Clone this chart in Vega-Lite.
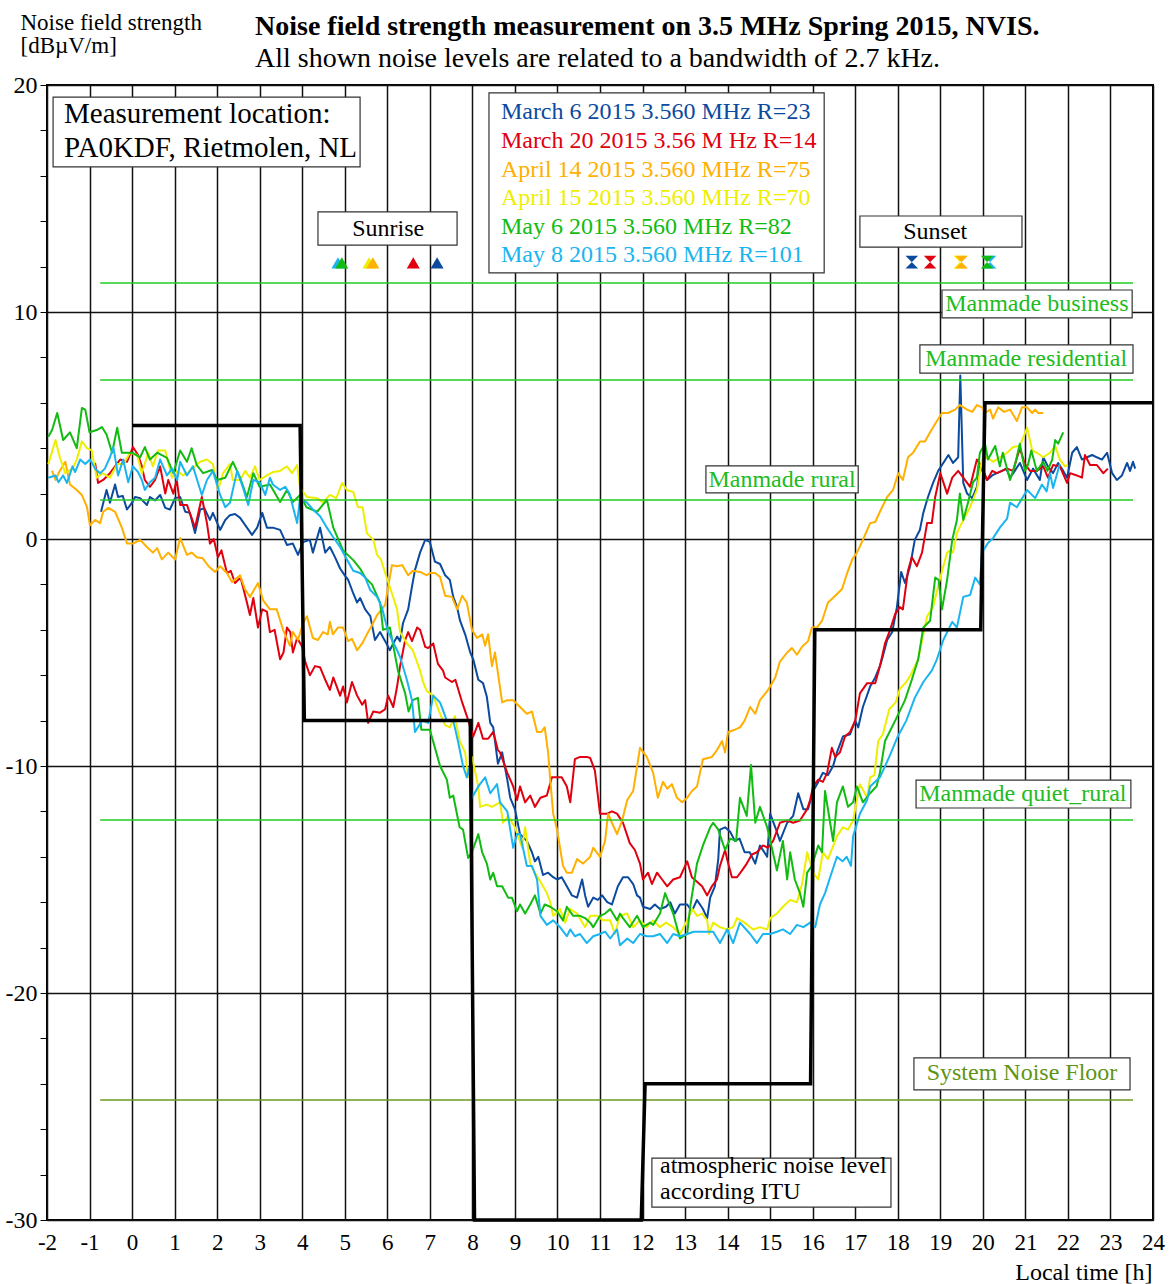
{
"$schema":"https://vega.github.io/schema/vega-lite/v6.json",
"width":1106,"height":1135,
"autosize":{"type":"none"},
"padding":{"left":47,"top":85,"right":20,"bottom":64},
"background":"white",
"title":{"text":"Noise field strength measurement on 3.5 MHz Spring 2015, NVIS.","subtitle":"All shown noise levels are related to a bandwidth of 2.7 kHz.","anchor":"start","frame":"group","dx":208,"dy":74,"offset":12,"font":"Liberation Serif","fontSize":28,"fontWeight":"bold","color":"black","subtitleFont":"Liberation Serif","subtitleFontSize":28,"subtitleColor":"black","subtitlePadding":4},
"config":{"font":"Liberation Serif","view":{"stroke":"black","strokeWidth":2},"axis":{"labelFont":"Liberation Serif","titleFont":"Liberation Serif","labelColor":"black","titleColor":"black","titleFontWeight":"normal"}},
"datasets":{
"series":[
{"s":"M6","t":-0.73,"v":1.2},{"s":"M6","t":-0.6,"v":2.16},{"s":"M6","t":-0.52,"v":1.6},{"s":"M6","t":-0.4,"v":2.4},{"s":"M6","t":-0.33,"v":1.85},{"s":"M6","t":-0.22,"v":1.9},{"s":"M6","t":-0.12,"v":1.3},{"s":"M6","t":0,"v":1.6},{"s":"M6","t":0.07,"v":1.85},{"s":"M6","t":0.19,"v":1.8},{"s":"M6","t":0.35,"v":1.5},{"s":"M6","t":0.42,"v":1.85},{"s":"M6","t":0.54,"v":1.7},{"s":"M6","t":0.66,"v":1.94},{"s":"M6","t":0.78,"v":1.37},{"s":"M6","t":0.89,"v":1.3},{"s":"M6","t":1.01,"v":1.8},{"s":"M6","t":1.13,"v":1.85},{"s":"M6","t":1.25,"v":1.2},{"s":"M6","t":1.36,"v":1.15},{"s":"M6","t":1.48,"v":0.26},{"s":"M6","t":1.6,"v":1.3},{"s":"M6","t":1.7,"v":1.35},{"s":"M6","t":1.83,"v":0.84},{"s":"M6","t":1.9,"v":1.15},{"s":"M6","t":2.07,"v":0.4},{"s":"M6","t":2.19,"v":0.84},{"s":"M6","t":2.3,"v":1.05},{"s":"M6","t":2.42,"v":1.1},{"s":"M6","t":2.54,"v":0.93},{"s":"M6","t":2.7,"v":0.5},{"s":"M6","t":2.82,"v":0.18},{"s":"M6","t":2.94,"v":0.5},{"s":"M6","t":3.06,"v":1.15},{"s":"M6","t":3.17,"v":0.5},{"s":"M6","t":3.31,"v":0.5},{"s":"M6","t":3.48,"v":0.4},{"s":"M6","t":3.64,"v":-0.26},{"s":"M6","t":3.78,"v":-0.2},{"s":"M6","t":3.9,"v":-0.7},{"s":"M6","t":4.02,"v":-0.13},{"s":"M6","t":4.18,"v":-0.04},{"s":"M6","t":4.25,"v":-0.6},{"s":"M6","t":4.42,"v":0.5},{"s":"M6","t":4.54,"v":-0.6},{"s":"M6","t":4.65,"v":-0.35},{"s":"M6","t":4.77,"v":-0.8},{"s":"M6","t":4.89,"v":-1.3},{"s":"M6","t":5.0,"v":-1.6},{"s":"M6","t":5.08,"v":-1.8},{"s":"M6","t":5.2,"v":-2.4},{"s":"M6","t":5.29,"v":-2.8},{"s":"M6","t":5.36,"v":-2.6},{"s":"M6","t":5.48,"v":-3.1},{"s":"M6","t":5.6,"v":-3.4},{"s":"M6","t":5.71,"v":-4.45},{"s":"M6","t":5.83,"v":-4.1},{"s":"M6","t":5.95,"v":-4.5},{"s":"M6","t":6.06,"v":-4.9},{"s":"M6","t":6.14,"v":-4.6},{"s":"M6","t":6.23,"v":-4.3},{"s":"M6","t":6.3,"v":-4.5},{"s":"M6","t":6.37,"v":-3.7},{"s":"M6","t":6.49,"v":-3.1},{"s":"M6","t":6.58,"v":-2.1},{"s":"M6","t":6.65,"v":-1.37},{"s":"M6","t":6.77,"v":-0.6},{"s":"M6","t":6.89,"v":-0.04},{"s":"M6","t":7.0,"v":-0.13},{"s":"M6","t":7.12,"v":-1.0},{"s":"M6","t":7.24,"v":-1.1},{"s":"M6","t":7.36,"v":-1.6},{"s":"M6","t":7.47,"v":-1.8},{"s":"M6","t":7.55,"v":-2.55},{"s":"M6","t":7.64,"v":-3.0},{"s":"M6","t":7.71,"v":-3.6},{"s":"M6","t":7.83,"v":-4.2},{"s":"M6","t":7.95,"v":-5.0},{"s":"M6","t":8.02,"v":-5.3},{"s":"M6","t":8.14,"v":-6.2},{"s":"M6","t":8.25,"v":-6.35},{"s":"M6","t":8.34,"v":-6.95},{"s":"M6","t":8.42,"v":-8.1},{"s":"M6","t":8.49,"v":-8.3},{"s":"M6","t":8.6,"v":-9.9},{"s":"M6","t":8.7,"v":-9.4},{"s":"M6","t":8.82,"v":-10.6},{"s":"M6","t":8.89,"v":-11.4},{"s":"M6","t":9.0,"v":-11.9},{"s":"M6","t":9.12,"v":-13.0},{"s":"M6","t":9.28,"v":-13.3},{"s":"M6","t":9.4,"v":-13.8},{"s":"M6","t":9.47,"v":-14.2},{"s":"M6","t":9.55,"v":-14.0},{"s":"M6","t":9.66,"v":-14.8},{"s":"M6","t":9.78,"v":-14.7},{"s":"M6","t":9.9,"v":-14.9},{"s":"M6","t":9.99,"v":-15.0},{"s":"M6","t":10.1,"v":-14.9},{"s":"M6","t":10.22,"v":-15.3},{"s":"M6","t":10.34,"v":-15.7},{"s":"M6","t":10.46,"v":-15.8},{"s":"M6","t":10.58,"v":-15.0},{"s":"M6","t":10.65,"v":-15.7},{"s":"M6","t":10.72,"v":-16.2},{"s":"M6","t":10.84,"v":-15.8},{"s":"M6","t":10.95,"v":-15.9},{"s":"M6","t":11.05,"v":-15.7},{"s":"M6","t":11.17,"v":-16.0},{"s":"M6","t":11.28,"v":-16.1},{"s":"M6","t":11.42,"v":-15.3},{"s":"M6","t":11.54,"v":-14.9},{"s":"M6","t":11.66,"v":-14.9},{"s":"M6","t":11.78,"v":-15.2},{"s":"M6","t":11.87,"v":-15.7},{"s":"M6","t":11.94,"v":-15.8},{"s":"M6","t":12.01,"v":-16.2},{"s":"M6","t":12.18,"v":-16.3},{"s":"M6","t":12.29,"v":-16.1},{"s":"M6","t":12.41,"v":-16.3},{"s":"M6","t":12.55,"v":-16.2},{"s":"M6","t":12.65,"v":-16.0},{"s":"M6","t":12.76,"v":-16.5},{"s":"M6","t":12.88,"v":-16.1},{"s":"M6","t":13.05,"v":-16.1},{"s":"M6","t":13.16,"v":-16.4},{"s":"M6","t":13.28,"v":-15.9},{"s":"M6","t":13.42,"v":-16.3},{"s":"M6","t":13.52,"v":-16.7},{"s":"M6","t":13.59,"v":-15.8},{"s":"M6","t":13.7,"v":-15.3},{"s":"M6","t":13.78,"v":-14.1},{"s":"M6","t":13.82,"v":-12.8},{"s":"M6","t":13.94,"v":-12.7},{"s":"M6","t":14.06,"v":-12.9},{"s":"M6","t":14.17,"v":-13.3},{"s":"M6","t":14.28,"v":-13.2},{"s":"M6","t":14.4,"v":-13.8},{"s":"M6","t":14.52,"v":-13.8},{"s":"M6","t":14.65,"v":-14.3},{"s":"M6","t":14.76,"v":-13.5},{"s":"M6","t":14.93,"v":-14.0},{"s":"M6","t":15.0,"v":-12.1},{"s":"M6","t":15.12,"v":-12.7},{"s":"M6","t":15.23,"v":-13.3},{"s":"M6","t":15.4,"v":-12.5},{"s":"M6","t":15.54,"v":-12.2},{"s":"M6","t":15.66,"v":-11.2},{"s":"M6","t":15.78,"v":-11.9},{"s":"M6","t":15.89,"v":-11.9},{"s":"M6","t":16.01,"v":-11.1},{"s":"M6","t":16.13,"v":-10.7},{"s":"M6","t":16.24,"v":-10.3},{"s":"M6","t":16.36,"v":-10.4},{"s":"M6","t":16.48,"v":-10.0},{"s":"M6","t":16.57,"v":-9.4},{"s":"M6","t":16.71,"v":-8.7},{"s":"M6","t":16.88,"v":-8.6},{"s":"M6","t":17.0,"v":-8.0},{"s":"M6","t":17.07,"v":-8.3},{"s":"M6","t":17.18,"v":-7.4},{"s":"M6","t":17.35,"v":-6.5},{"s":"M6","t":17.47,"v":-6.1},{"s":"M6","t":17.58,"v":-5.6},{"s":"M6","t":17.63,"v":-5.3},{"s":"M6","t":17.75,"v":-4.45},{"s":"M6","t":17.87,"v":-4.1},{"s":"M6","t":17.98,"v":-3.0},{"s":"M6","t":18.08,"v":-1.45},{"s":"M6","t":18.17,"v":-1.94},{"s":"M6","t":18.29,"v":-1.2},{"s":"M6","t":18.4,"v":-0.04},{"s":"M6","t":18.52,"v":0.4},{"s":"M6","t":18.6,"v":1.15},{"s":"M6","t":18.71,"v":1.85},{"s":"M6","t":18.83,"v":2.47},{"s":"M6","t":18.95,"v":3.0},{"s":"M6","t":19.07,"v":3.35},{"s":"M6","t":19.19,"v":3.7},{"s":"M6","t":19.3,"v":3.35},{"s":"M6","t":19.42,"v":3.6},{"s":"M6","t":19.47,"v":7.2},{"s":"M6","t":19.54,"v":2.47},{"s":"M6","t":19.63,"v":2.0},{"s":"M6","t":19.75,"v":1.8},{"s":"M6","t":19.86,"v":2.3},{"s":"M6","t":19.93,"v":3.2},{"s":"M6","t":19.99,"v":3.0},{"s":"M6","t":20.1,"v":2.6},{"s":"M6","t":20.22,"v":2.8},{"s":"M6","t":20.33,"v":2.9},{"s":"M6","t":20.45,"v":3.0},{"s":"M6","t":20.55,"v":3.1},{"s":"M6","t":20.64,"v":2.7},{"s":"M6","t":20.75,"v":3.0},{"s":"M6","t":20.87,"v":3.35},{"s":"M6","t":21.04,"v":2.6},{"s":"M6","t":21.18,"v":3.1},{"s":"M6","t":21.34,"v":2.6},{"s":"M6","t":21.42,"v":3.6},{"s":"M6","t":21.53,"v":3.2},{"s":"M6","t":21.65,"v":2.9},{"s":"M6","t":21.77,"v":3.35},{"s":"M6","t":21.89,"v":3.0},{"s":"M6","t":21.98,"v":2.7},{"s":"M6","t":22.1,"v":3.8},{"s":"M6","t":22.21,"v":4.05},{"s":"M6","t":22.33,"v":3.5},{"s":"M6","t":22.45,"v":3.6},{"s":"M6","t":22.57,"v":3.7},{"s":"M6","t":22.68,"v":3.6},{"s":"M6","t":22.8,"v":3.5},{"s":"M6","t":22.92,"v":3.8},{"s":"M6","t":23.04,"v":2.9},{"s":"M6","t":23.15,"v":2.6},{"s":"M6","t":23.27,"v":2.8},{"s":"M6","t":23.39,"v":3.35},{"s":"M6","t":23.46,"v":3.0},{"s":"M6","t":23.53,"v":3.4},{"s":"M6","t":23.58,"v":3.1},
{"s":"M20","t":-0.87,"v":3.35},{"s":"M20","t":-0.8,"v":2.47},{"s":"M20","t":-0.68,"v":2.6},{"s":"M20","t":-0.52,"v":2.9},{"s":"M20","t":-0.4,"v":3.2},{"s":"M20","t":-0.28,"v":3.5},{"s":"M20","t":-0.12,"v":3.4},{"s":"M20","t":0.02,"v":4.05},{"s":"M20","t":0.14,"v":3.7},{"s":"M20","t":0.23,"v":3.2},{"s":"M20","t":0.3,"v":2.6},{"s":"M20","t":0.42,"v":2.3},{"s":"M20","t":0.54,"v":2.6},{"s":"M20","t":0.66,"v":3.2},{"s":"M20","t":0.78,"v":2.0},{"s":"M20","t":0.85,"v":2.6},{"s":"M20","t":0.97,"v":2.0},{"s":"M20","t":1.05,"v":2.6},{"s":"M20","t":1.13,"v":1.5},{"s":"M20","t":1.29,"v":1.5},{"s":"M20","t":1.48,"v":0.5},{"s":"M20","t":1.64,"v":1.85},{"s":"M20","t":1.76,"v":0.7},{"s":"M20","t":1.83,"v":-0.2},{"s":"M20","t":1.92,"v":0.0},{"s":"M20","t":2.02,"v":-0.8},{"s":"M20","t":2.1,"v":-0.5},{"s":"M20","t":2.23,"v":-1.5},{"s":"M20","t":2.32,"v":-1.4},{"s":"M20","t":2.42,"v":-1.94},{"s":"M20","t":2.55,"v":-1.7},{"s":"M20","t":2.7,"v":-2.8},{"s":"M20","t":2.77,"v":-3.35},{"s":"M20","t":2.85,"v":-2.6},{"s":"M20","t":2.96,"v":-3.9},{"s":"M20","t":3.06,"v":-3.1},{"s":"M20","t":3.17,"v":-3.2},{"s":"M20","t":3.24,"v":-4.1},{"s":"M20","t":3.35,"v":-4.0},{"s":"M20","t":3.48,"v":-5.3},{"s":"M20","t":3.56,"v":-5.0},{"s":"M20","t":3.64,"v":-3.9},{"s":"M20","t":3.72,"v":-4.1},{"s":"M20","t":3.78,"v":-5.0},{"s":"M20","t":3.88,"v":-4.36},{"s":"M20","t":4.0,"v":-4.75},{"s":"M20","t":4.07,"v":-5.4},{"s":"M20","t":4.18,"v":-6.0},{"s":"M20","t":4.3,"v":-5.6},{"s":"M20","t":4.42,"v":-5.65},{"s":"M20","t":4.54,"v":-6.2},{"s":"M20","t":4.65,"v":-6.65},{"s":"M20","t":4.73,"v":-6.1},{"s":"M20","t":4.89,"v":-6.9},{"s":"M20","t":4.96,"v":-6.5},{"s":"M20","t":5.05,"v":-7.2},{"s":"M20","t":5.17,"v":-6.3},{"s":"M20","t":5.29,"v":-6.9},{"s":"M20","t":5.41,"v":-7.3},{"s":"M20","t":5.48,"v":-7.1},{"s":"M20","t":5.55,"v":-8.1},{"s":"M20","t":5.67,"v":-7.6},{"s":"M20","t":5.83,"v":-7.65},{"s":"M20","t":5.95,"v":-7.5},{"s":"M20","t":6.02,"v":-6.9},{"s":"M20","t":6.14,"v":-7.4},{"s":"M20","t":6.23,"v":-6.5},{"s":"M20","t":6.3,"v":-5.6},{"s":"M20","t":6.42,"v":-4.45},{"s":"M20","t":6.49,"v":-4.1},{"s":"M20","t":6.58,"v":-4.5},{"s":"M20","t":6.7,"v":-3.9},{"s":"M20","t":6.77,"v":-4.0},{"s":"M20","t":6.89,"v":-4.75},{"s":"M20","t":6.96,"v":-4.8},{"s":"M20","t":7.08,"v":-4.6},{"s":"M20","t":7.19,"v":-5.5},{"s":"M20","t":7.31,"v":-5.8},{"s":"M20","t":7.36,"v":-6.1},{"s":"M20","t":7.52,"v":-6.3},{"s":"M20","t":7.6,"v":-6.2},{"s":"M20","t":7.76,"v":-7.2},{"s":"M20","t":7.87,"v":-7.8},{"s":"M20","t":8.02,"v":-8.7},{"s":"M20","t":8.14,"v":-8.1},{"s":"M20","t":8.25,"v":-8.8},{"s":"M20","t":8.37,"v":-8.8},{"s":"M20","t":8.49,"v":-8.5},{"s":"M20","t":8.6,"v":-9.3},{"s":"M20","t":8.65,"v":-9.4},{"s":"M20","t":8.82,"v":-10.3},{"s":"M20","t":8.96,"v":-10.9},{"s":"M20","t":9.05,"v":-11.5},{"s":"M20","t":9.12,"v":-10.9},{"s":"M20","t":9.24,"v":-11.6},{"s":"M20","t":9.36,"v":-11.3},{"s":"M20","t":9.47,"v":-11.8},{"s":"M20","t":9.6,"v":-11.4},{"s":"M20","t":9.75,"v":-11.3},{"s":"M20","t":9.87,"v":-10.5},{"s":"M20","t":9.99,"v":-10.5},{"s":"M20","t":10.1,"v":-10.5},{"s":"M20","t":10.22,"v":-10.9},{"s":"M20","t":10.3,"v":-11.6},{"s":"M20","t":10.41,"v":-9.7},{"s":"M20","t":10.53,"v":-9.6},{"s":"M20","t":10.69,"v":-9.6},{"s":"M20","t":10.77,"v":-9.65},{"s":"M20","t":10.88,"v":-10.2},{"s":"M20","t":11.0,"v":-12.1},{"s":"M20","t":11.17,"v":-12.1},{"s":"M20","t":11.28,"v":-12.0},{"s":"M20","t":11.4,"v":-12.1},{"s":"M20","t":11.54,"v":-12.5},{"s":"M20","t":11.7,"v":-13.4},{"s":"M20","t":11.82,"v":-13.7},{"s":"M20","t":11.94,"v":-14.3},{"s":"M20","t":12.01,"v":-15.0},{"s":"M20","t":12.13,"v":-14.7},{"s":"M20","t":12.22,"v":-15.2},{"s":"M20","t":12.34,"v":-14.7},{"s":"M20","t":12.46,"v":-15.0},{"s":"M20","t":12.58,"v":-15.3},{"s":"M20","t":12.72,"v":-15.0},{"s":"M20","t":12.88,"v":-14.9},{"s":"M20","t":13.05,"v":-14.2},{"s":"M20","t":13.16,"v":-14.9},{"s":"M20","t":13.28,"v":-15.1},{"s":"M20","t":13.4,"v":-15.3},{"s":"M20","t":13.52,"v":-15.7},{"s":"M20","t":13.63,"v":-15.3},{"s":"M20","t":13.75,"v":-15.0},{"s":"M20","t":13.82,"v":-14.4},{"s":"M20","t":13.94,"v":-13.7},{"s":"M20","t":14.0,"v":-14.2},{"s":"M20","t":14.1,"v":-14.9},{"s":"M20","t":14.22,"v":-14.9},{"s":"M20","t":14.34,"v":-14.6},{"s":"M20","t":14.45,"v":-14.3},{"s":"M20","t":14.57,"v":-13.9},{"s":"M20","t":14.69,"v":-13.8},{"s":"M20","t":14.83,"v":-13.5},{"s":"M20","t":14.95,"v":-13.6},{"s":"M20","t":15.07,"v":-13.3},{"s":"M20","t":15.23,"v":-12.5},{"s":"M20","t":15.4,"v":-12.4},{"s":"M20","t":15.54,"v":-12.5},{"s":"M20","t":15.7,"v":-12.4},{"s":"M20","t":15.87,"v":-11.9},{"s":"M20","t":15.94,"v":-11.5},{"s":"M20","t":16.01,"v":-10.9},{"s":"M20","t":16.13,"v":-10.6},{"s":"M20","t":16.24,"v":-10.7},{"s":"M20","t":16.34,"v":-10.3},{"s":"M20","t":16.45,"v":-9.2},{"s":"M20","t":16.53,"v":-9.6},{"s":"M20","t":16.64,"v":-9.4},{"s":"M20","t":16.76,"v":-8.7},{"s":"M20","t":16.88,"v":-8.5},{"s":"M20","t":17.0,"v":-8.0},{"s":"M20","t":17.11,"v":-6.8},{"s":"M20","t":17.28,"v":-6.35},{"s":"M20","t":17.47,"v":-6.35},{"s":"M20","t":17.58,"v":-5.6},{"s":"M20","t":17.7,"v":-4.6},{"s":"M20","t":17.82,"v":-4.0},{"s":"M20","t":17.94,"v":-3.3},{"s":"M20","t":18.05,"v":-3.0},{"s":"M20","t":18.12,"v":-3.1},{"s":"M20","t":18.24,"v":-1.4},{"s":"M20","t":18.33,"v":-0.8},{"s":"M20","t":18.45,"v":-1.2},{"s":"M20","t":18.57,"v":-0.6},{"s":"M20","t":18.69,"v":0.7},{"s":"M20","t":18.8,"v":0.7},{"s":"M20","t":18.88,"v":1.85},{"s":"M20","t":19.0,"v":2.9},{"s":"M20","t":19.16,"v":2.0},{"s":"M20","t":19.28,"v":2.7},{"s":"M20","t":19.42,"v":3.0},{"s":"M20","t":19.54,"v":2.7},{"s":"M20","t":19.7,"v":2.3},{"s":"M20","t":19.86,"v":3.5},{"s":"M20","t":19.98,"v":3.2},{"s":"M20","t":20.1,"v":2.6},{"s":"M20","t":20.22,"v":3.0},{"s":"M20","t":20.33,"v":2.9},{"s":"M20","t":20.45,"v":3.0},{"s":"M20","t":20.57,"v":3.1},{"s":"M20","t":20.71,"v":3.0},{"s":"M20","t":20.87,"v":4.0},{"s":"M20","t":20.99,"v":3.3},{"s":"M20","t":21.11,"v":3.0},{"s":"M20","t":21.27,"v":3.0},{"s":"M20","t":21.42,"v":3.2},{"s":"M20","t":21.53,"v":2.7},{"s":"M20","t":21.65,"v":3.26},{"s":"M20","t":21.81,"v":3.2},{"s":"M20","t":21.98,"v":2.47},{"s":"M20","t":22.05,"v":2.9},{"s":"M20","t":22.21,"v":2.8},{"s":"M20","t":22.33,"v":2.7},{"s":"M20","t":22.4,"v":3.7},{"s":"M20","t":22.52,"v":3.26},{"s":"M20","t":22.68,"v":3.26},{"s":"M20","t":22.83,"v":2.9},{"s":"M20","t":22.94,"v":3.1},
{"s":"A14","t":-1.88,"v":3.0},{"s":"A14","t":-1.8,"v":2.6},{"s":"A14","t":-1.7,"v":3.0},{"s":"A14","t":-1.57,"v":3.4},{"s":"A14","t":-1.46,"v":2.4},{"s":"A14","t":-1.3,"v":2.16},{"s":"A14","t":-1.18,"v":1.94},{"s":"A14","t":-1.06,"v":1.4},{"s":"A14","t":-0.99,"v":0.6},{"s":"A14","t":-0.87,"v":0.84},{"s":"A14","t":-0.75,"v":0.7},{"s":"A14","t":-0.68,"v":1.2},{"s":"A14","t":-0.56,"v":1.37},{"s":"A14","t":-0.4,"v":1.2},{"s":"A14","t":-0.24,"v":0.5},{"s":"A14","t":-0.12,"v":-0.2},{"s":"A14","t":0.02,"v":-0.2},{"s":"A14","t":0.19,"v":-0.04},{"s":"A14","t":0.35,"v":-0.35},{"s":"A14","t":0.49,"v":-0.6},{"s":"A14","t":0.59,"v":-0.4},{"s":"A14","t":0.7,"v":-0.9},{"s":"A14","t":0.85,"v":-0.6},{"s":"A14","t":1.01,"v":-0.9},{"s":"A14","t":1.13,"v":0.04},{"s":"A14","t":1.29,"v":-0.7},{"s":"A14","t":1.4,"v":-0.6},{"s":"A14","t":1.52,"v":-0.8},{"s":"A14","t":1.66,"v":-0.85},{"s":"A14","t":1.8,"v":-1.2},{"s":"A14","t":1.95,"v":-1.45},{"s":"A14","t":2.07,"v":-1.2},{"s":"A14","t":2.23,"v":-1.5},{"s":"A14","t":2.35,"v":-1.9},{"s":"A14","t":2.54,"v":-1.6},{"s":"A14","t":2.65,"v":-2.2},{"s":"A14","t":2.77,"v":-2.55},{"s":"A14","t":2.96,"v":-1.94},{"s":"A14","t":3.08,"v":-2.7},{"s":"A14","t":3.24,"v":-3.1},{"s":"A14","t":3.4,"v":-3.1},{"s":"A14","t":3.55,"v":-4.0},{"s":"A14","t":3.71,"v":-4.7},{"s":"A14","t":3.78,"v":-4.1},{"s":"A14","t":3.9,"v":-4.45},{"s":"A14","t":4.02,"v":-3.7},{"s":"A14","t":4.11,"v":-3.4},{"s":"A14","t":4.25,"v":-4.36},{"s":"A14","t":4.37,"v":-4.45},{"s":"A14","t":4.49,"v":-4.1},{"s":"A14","t":4.6,"v":-4.2},{"s":"A14","t":4.65,"v":-3.65},{"s":"A14","t":4.72,"v":-4.2},{"s":"A14","t":4.84,"v":-3.9},{"s":"A14","t":4.96,"v":-3.9},{"s":"A14","t":5.08,"v":-4.5},{"s":"A14","t":5.17,"v":-4.4},{"s":"A14","t":5.29,"v":-4.9},{"s":"A14","t":5.41,"v":-4.6},{"s":"A14","t":5.52,"v":-4.2},{"s":"A14","t":5.64,"v":-3.8},{"s":"A14","t":5.76,"v":-3.35},{"s":"A14","t":5.95,"v":-2.9},{"s":"A14","t":6.02,"v":-2.1},{"s":"A14","t":6.11,"v":-1.15},{"s":"A14","t":6.23,"v":-1.2},{"s":"A14","t":6.35,"v":-1.15},{"s":"A14","t":6.49,"v":-1.6},{"s":"A14","t":6.6,"v":-1.4},{"s":"A14","t":6.77,"v":-1.45},{"s":"A14","t":6.93,"v":-1.6},{"s":"A14","t":7.0,"v":-1.5},{"s":"A14","t":7.12,"v":-1.5},{"s":"A14","t":7.24,"v":-1.67},{"s":"A14","t":7.36,"v":-2.5},{"s":"A14","t":7.52,"v":-2.55},{"s":"A14","t":7.64,"v":-3.1},{"s":"A14","t":7.76,"v":-2.5},{"s":"A14","t":7.87,"v":-2.8},{"s":"A14","t":7.99,"v":-4.0},{"s":"A14","t":8.11,"v":-4.36},{"s":"A14","t":8.23,"v":-4.2},{"s":"A14","t":8.3,"v":-4.7},{"s":"A14","t":8.37,"v":-4.2},{"s":"A14","t":8.46,"v":-5.6},{"s":"A14","t":8.53,"v":-5.0},{"s":"A14","t":8.6,"v":-5.9},{"s":"A14","t":8.7,"v":-7.2},{"s":"A14","t":8.82,"v":-7.1},{"s":"A14","t":8.96,"v":-7.1},{"s":"A14","t":9.12,"v":-7.4},{"s":"A14","t":9.28,"v":-7.7},{"s":"A14","t":9.4,"v":-7.6},{"s":"A14","t":9.52,"v":-8.5},{"s":"A14","t":9.62,"v":-8.5},{"s":"A14","t":9.7,"v":-8.3},{"s":"A14","t":9.78,"v":-9.4},{"s":"A14","t":9.83,"v":-10.6},{"s":"A14","t":9.9,"v":-12.1},{"s":"A14","t":9.99,"v":-12.8},{"s":"A14","t":10.06,"v":-13.6},{"s":"A14","t":10.13,"v":-14.4},{"s":"A14","t":10.22,"v":-14.7},{"s":"A14","t":10.34,"v":-14.7},{"s":"A14","t":10.46,"v":-14.1},{"s":"A14","t":10.6,"v":-14.3},{"s":"A14","t":10.77,"v":-14.0},{"s":"A14","t":10.84,"v":-13.6},{"s":"A14","t":11.0,"v":-14.0},{"s":"A14","t":11.12,"v":-13.3},{"s":"A14","t":11.19,"v":-12.1},{"s":"A14","t":11.28,"v":-12.5},{"s":"A14","t":11.4,"v":-13.0},{"s":"A14","t":11.52,"v":-12.4},{"s":"A14","t":11.64,"v":-11.5},{"s":"A14","t":11.78,"v":-11.1},{"s":"A14","t":11.94,"v":-9.2},{"s":"A14","t":12.1,"v":-9.6},{"s":"A14","t":12.25,"v":-10.3},{"s":"A14","t":12.36,"v":-11.4},{"s":"A14","t":12.48,"v":-10.7},{"s":"A14","t":12.58,"v":-11.0},{"s":"A14","t":12.69,"v":-10.8},{"s":"A14","t":12.81,"v":-11.4},{"s":"A14","t":12.93,"v":-11.6},{"s":"A14","t":13.05,"v":-11.4},{"s":"A14","t":13.16,"v":-11.1},{"s":"A14","t":13.28,"v":-10.9},{"s":"A14","t":13.42,"v":-9.7},{"s":"A14","t":13.63,"v":-9.6},{"s":"A14","t":13.75,"v":-9.3},{"s":"A14","t":13.87,"v":-8.9},{"s":"A14","t":13.94,"v":-9.4},{"s":"A14","t":14.01,"v":-8.5},{"s":"A14","t":14.17,"v":-8.4},{"s":"A14","t":14.29,"v":-8.3},{"s":"A14","t":14.4,"v":-8.0},{"s":"A14","t":14.53,"v":-7.4},{"s":"A14","t":14.65,"v":-7.7},{"s":"A14","t":14.76,"v":-7.1},{"s":"A14","t":14.93,"v":-6.7},{"s":"A14","t":15.0,"v":-6.5},{"s":"A14","t":15.12,"v":-6.1},{"s":"A14","t":15.23,"v":-5.4},{"s":"A14","t":15.4,"v":-5.0},{"s":"A14","t":15.51,"v":-4.8},{"s":"A14","t":15.63,"v":-5.1},{"s":"A14","t":15.75,"v":-4.75},{"s":"A14","t":15.89,"v":-4.5},{"s":"A14","t":15.98,"v":-3.9},{"s":"A14","t":16.1,"v":-3.9},{"s":"A14","t":16.22,"v":-3.6},{"s":"A14","t":16.36,"v":-2.8},{"s":"A14","t":16.53,"v":-2.5},{"s":"A14","t":16.69,"v":-2.2},{"s":"A14","t":16.81,"v":-1.5},{"s":"A14","t":16.93,"v":-0.9},{"s":"A14","t":17.04,"v":-0.6},{"s":"A14","t":17.18,"v":-0.04},{"s":"A14","t":17.35,"v":0.7},{"s":"A14","t":17.47,"v":0.75},{"s":"A14","t":17.58,"v":1.2},{"s":"A14","t":17.75,"v":1.85},{"s":"A14","t":17.89,"v":2.16},{"s":"A14","t":18.01,"v":2.9},{"s":"A14","t":18.12,"v":2.6},{"s":"A14","t":18.24,"v":3.6},{"s":"A14","t":18.36,"v":3.8},{"s":"A14","t":18.52,"v":4.3},{"s":"A14","t":18.64,"v":4.3},{"s":"A14","t":18.76,"v":4.7},{"s":"A14","t":18.92,"v":5.2},{"s":"A14","t":19.04,"v":5.55},{"s":"A14","t":19.18,"v":5.55},{"s":"A14","t":19.35,"v":5.7},{"s":"A14","t":19.46,"v":5.9},{"s":"A14","t":19.63,"v":5.7},{"s":"A14","t":19.75,"v":5.6},{"s":"A14","t":19.86,"v":5.9},{"s":"A14","t":19.98,"v":5.8},{"s":"A14","t":20.05,"v":5.55},{"s":"A14","t":20.17,"v":5.7},{"s":"A14","t":20.24,"v":5.3},{"s":"A14","t":20.36,"v":5.8},{"s":"A14","t":20.5,"v":5.6},{"s":"A14","t":20.64,"v":5.7},{"s":"A14","t":20.8,"v":5.2},{"s":"A14","t":20.92,"v":5.8},{"s":"A14","t":21.04,"v":5.8},{"s":"A14","t":21.16,"v":5.55},{"s":"A14","t":21.23,"v":5.7},{"s":"A14","t":21.3,"v":5.55},{"s":"A14","t":21.42,"v":5.55},
{"s":"A15","t":-1.97,"v":3.3},{"s":"A15","t":-1.8,"v":4.36},{"s":"A15","t":-1.7,"v":3.6},{"s":"A15","t":-1.57,"v":2.9},{"s":"A15","t":-1.4,"v":3.1},{"s":"A15","t":-1.3,"v":3.5},{"s":"A15","t":-1.18,"v":4.3},{"s":"A15","t":-1.06,"v":4.0},{"s":"A15","t":-0.95,"v":3.9},{"s":"A15","t":-0.83,"v":2.7},{"s":"A15","t":-0.7,"v":2.9},{"s":"A15","t":-0.52,"v":2.7},{"s":"A15","t":-0.35,"v":3.3},{"s":"A15","t":-0.2,"v":3.3},{"s":"A15","t":-0.05,"v":3.8},{"s":"A15","t":0.12,"v":3.7},{"s":"A15","t":0.23,"v":2.9},{"s":"A15","t":0.38,"v":3.8},{"s":"A15","t":0.49,"v":3.2},{"s":"A15","t":0.61,"v":3.9},{"s":"A15","t":0.78,"v":3.9},{"s":"A15","t":0.94,"v":2.7},{"s":"A15","t":1.06,"v":3.0},{"s":"A15","t":1.2,"v":2.8},{"s":"A15","t":1.32,"v":2.95},{"s":"A15","t":1.48,"v":3.2},{"s":"A15","t":1.6,"v":3.4},{"s":"A15","t":1.76,"v":3.5},{"s":"A15","t":1.9,"v":3.3},{"s":"A15","t":2.02,"v":2.16},{"s":"A15","t":2.14,"v":2.9},{"s":"A15","t":2.3,"v":3.3},{"s":"A15","t":2.37,"v":2.6},{"s":"A15","t":2.54,"v":2.6},{"s":"A15","t":2.66,"v":3.0},{"s":"A15","t":2.77,"v":2.7},{"s":"A15","t":2.89,"v":3.2},{"s":"A15","t":3.0,"v":2.6},{"s":"A15","t":3.17,"v":2.8},{"s":"A15","t":3.31,"v":2.95},{"s":"A15","t":3.48,"v":3.0},{"s":"A15","t":3.64,"v":3.2},{"s":"A15","t":3.76,"v":2.9},{"s":"A15","t":3.88,"v":3.26},{"s":"A15","t":3.95,"v":2.25},{"s":"A15","t":4.11,"v":1.85},{"s":"A15","t":4.35,"v":1.8},{"s":"A15","t":4.49,"v":1.6},{"s":"A15","t":4.65,"v":1.94},{"s":"A15","t":4.8,"v":1.8},{"s":"A15","t":4.94,"v":2.47},{"s":"A15","t":5.05,"v":2.16},{"s":"A15","t":5.2,"v":2.07},{"s":"A15","t":5.31,"v":1.4},{"s":"A15","t":5.42,"v":1.4},{"s":"A15","t":5.52,"v":0.26},{"s":"A15","t":5.67,"v":-0.04},{"s":"A15","t":5.76,"v":-0.7},{"s":"A15","t":5.85,"v":-0.9},{"s":"A15","t":5.95,"v":-1.5},{"s":"A15","t":6.11,"v":-2.4},{"s":"A15","t":6.23,"v":-3.1},{"s":"A15","t":6.3,"v":-4.1},{"s":"A15","t":6.46,"v":-4.6},{"s":"A15","t":6.6,"v":-4.9},{"s":"A15","t":6.77,"v":-5.8},{"s":"A15","t":6.84,"v":-6.3},{"s":"A15","t":6.93,"v":-6.7},{"s":"A15","t":7.08,"v":-6.9},{"s":"A15","t":7.24,"v":-7.7},{"s":"A15","t":7.36,"v":-8.2},{"s":"A15","t":7.47,"v":-8.3},{"s":"A15","t":7.59,"v":-7.8},{"s":"A15","t":7.7,"v":-8.9},{"s":"A15","t":7.83,"v":-9.4},{"s":"A15","t":7.9,"v":-10.5},{"s":"A15","t":7.99,"v":-9.6},{"s":"A15","t":8.14,"v":-10.9},{"s":"A15","t":8.18,"v":-11.8},{"s":"A15","t":8.34,"v":-11.7},{"s":"A15","t":8.46,"v":-11.8},{"s":"A15","t":8.65,"v":-11.6},{"s":"A15","t":8.72,"v":-12.5},{"s":"A15","t":8.84,"v":-12.2},{"s":"A15","t":9.0,"v":-12.7},{"s":"A15","t":9.17,"v":-13.6},{"s":"A15","t":9.24,"v":-12.7},{"s":"A15","t":9.36,"v":-14.3},{"s":"A15","t":9.47,"v":-14.7},{"s":"A15","t":9.6,"v":-15.1},{"s":"A15","t":9.75,"v":-15.6},{"s":"A15","t":9.83,"v":-16.0},{"s":"A15","t":9.9,"v":-16.6},{"s":"A15","t":10.06,"v":-16.3},{"s":"A15","t":10.18,"v":-16.9},{"s":"A15","t":10.3,"v":-16.3},{"s":"A15","t":10.46,"v":-16.5},{"s":"A15","t":10.65,"v":-17.1},{"s":"A15","t":10.77,"v":-16.6},{"s":"A15","t":10.93,"v":-16.6},{"s":"A15","t":11.08,"v":-16.8},{"s":"A15","t":11.24,"v":-16.8},{"s":"A15","t":11.35,"v":-17.4},{"s":"A15","t":11.47,"v":-16.6},{"s":"A15","t":11.64,"v":-16.5},{"s":"A15","t":11.78,"v":-17.1},{"s":"A15","t":11.94,"v":-16.8},{"s":"A15","t":12.1,"v":-17.1},{"s":"A15","t":12.25,"v":-16.8},{"s":"A15","t":12.41,"v":-17.1},{"s":"A15","t":12.55,"v":-16.9},{"s":"A15","t":12.72,"v":-17.1},{"s":"A15","t":12.88,"v":-17.4},{"s":"A15","t":13.05,"v":-16.8},{"s":"A15","t":13.17,"v":-16.3},{"s":"A15","t":13.28,"v":-16.6},{"s":"A15","t":13.4,"v":-16.5},{"s":"A15","t":13.52,"v":-16.8},{"s":"A15","t":13.56,"v":-17.4},{"s":"A15","t":13.66,"v":-16.9},{"s":"A15","t":13.82,"v":-17.1},{"s":"A15","t":13.99,"v":-17.2},{"s":"A15","t":14.13,"v":-17.1},{"s":"A15","t":14.22,"v":-16.7},{"s":"A15","t":14.4,"v":-16.9},{"s":"A15","t":14.6,"v":-17.2},{"s":"A15","t":14.76,"v":-17.1},{"s":"A15","t":14.93,"v":-17.2},{"s":"A15","t":15.0,"v":-16.7},{"s":"A15","t":15.16,"v":-16.5},{"s":"A15","t":15.3,"v":-16.2},{"s":"A15","t":15.47,"v":-15.9},{"s":"A15","t":15.63,"v":-16.0},{"s":"A15","t":15.75,"v":-15.2},{"s":"A15","t":15.87,"v":-13.8},{"s":"A15","t":16.01,"v":-14.7},{"s":"A15","t":16.13,"v":-15.0},{"s":"A15","t":16.24,"v":-13.8},{"s":"A15","t":16.36,"v":-14.1},{"s":"A15","t":16.57,"v":-13.1},{"s":"A15","t":16.71,"v":-12.7},{"s":"A15","t":16.83,"v":-12.8},{"s":"A15","t":16.95,"v":-12.4},{"s":"A15","t":17.11,"v":-10.8},{"s":"A15","t":17.28,"v":-11.4},{"s":"A15","t":17.35,"v":-10.5},{"s":"A15","t":17.45,"v":-10.4},{"s":"A15","t":17.54,"v":-8.9},{"s":"A15","t":17.65,"v":-8.6},{"s":"A15","t":17.8,"v":-7.5},{"s":"A15","t":17.95,"v":-7.2},{"s":"A15","t":18.05,"v":-6.6},{"s":"A15","t":18.2,"v":-6.3},{"s":"A15","t":18.3,"v":-6.0},{"s":"A15","t":18.48,"v":-5.3},{"s":"A15","t":18.6,"v":-4.2},{"s":"A15","t":18.69,"v":-3.4},{"s":"A15","t":18.83,"v":-3.0},{"s":"A15","t":19.0,"v":-1.7},{"s":"A15","t":19.16,"v":-0.6},{"s":"A15","t":19.23,"v":-0.5},{"s":"A15","t":19.3,"v":-0.6},{"s":"A15","t":19.39,"v":0.26},{"s":"A15","t":19.54,"v":0.84},{"s":"A15","t":19.7,"v":1.4},{"s":"A15","t":19.86,"v":2.16},{"s":"A15","t":19.98,"v":3.5},{"s":"A15","t":20.1,"v":3.6},{"s":"A15","t":20.24,"v":3.4},{"s":"A15","t":20.4,"v":3.6},{"s":"A15","t":20.57,"v":3.8},{"s":"A15","t":20.71,"v":4.05},{"s":"A15","t":20.87,"v":4.1},{"s":"A15","t":21.04,"v":4.9},{"s":"A15","t":21.16,"v":3.9},{"s":"A15","t":21.27,"v":3.8},{"s":"A15","t":21.42,"v":3.6},{"s":"A15","t":21.58,"v":3.8},{"s":"A15","t":21.7,"v":4.1},{"s":"A15","t":21.81,"v":3.5},{"s":"A15","t":21.93,"v":3.2},{"s":"A15","t":22.0,"v":3.26},
{"s":"Y6","t":-1.97,"v":4.5},{"s":"Y6","t":-1.88,"v":4.8},{"s":"Y6","t":-1.76,"v":5.55},{"s":"Y6","t":-1.62,"v":4.36},{"s":"Y6","t":-1.46,"v":4.7},{"s":"Y6","t":-1.3,"v":4.0},{"s":"Y6","t":-1.18,"v":5.77},{"s":"Y6","t":-1.1,"v":5.7},{"s":"Y6","t":-1.0,"v":4.7},{"s":"Y6","t":-0.83,"v":4.8},{"s":"Y6","t":-0.71,"v":4.93},{"s":"Y6","t":-0.6,"v":4.6},{"s":"Y6","t":-0.47,"v":3.8},{"s":"Y6","t":-0.35,"v":4.9},{"s":"Y6","t":-0.24,"v":3.8},{"s":"Y6","t":-0.12,"v":3.8},{"s":"Y6","t":0.0,"v":3.8},{"s":"Y6","t":0.19,"v":3.6},{"s":"Y6","t":0.3,"v":4.05},{"s":"Y6","t":0.42,"v":3.5},{"s":"Y6","t":0.59,"v":3.8},{"s":"Y6","t":0.82,"v":3.57},{"s":"Y6","t":0.97,"v":2.9},{"s":"Y6","t":1.13,"v":3.9},{"s":"Y6","t":1.29,"v":3.4},{"s":"Y6","t":1.4,"v":4.0},{"s":"Y6","t":1.52,"v":3.26},{"s":"Y6","t":1.67,"v":2.9},{"s":"Y6","t":1.88,"v":3.04},{"s":"Y6","t":2.0,"v":2.6},{"s":"Y6","t":2.19,"v":2.7},{"s":"Y6","t":2.37,"v":3.4},{"s":"Y6","t":2.54,"v":2.7},{"s":"Y6","t":2.7,"v":1.85},{"s":"Y6","t":2.85,"v":2.9},{"s":"Y6","t":3.0,"v":2.3},{"s":"Y6","t":3.24,"v":2.4},{"s":"Y6","t":3.48,"v":1.63},{"s":"Y6","t":3.64,"v":2.16},{"s":"Y6","t":3.78,"v":1.63},{"s":"Y6","t":3.95,"v":1.94},{"s":"Y6","t":4.1,"v":1.4},{"s":"Y6","t":4.35,"v":1.2},{"s":"Y6","t":4.58,"v":1.72},{"s":"Y6","t":4.73,"v":0.5},{"s":"Y6","t":4.96,"v":-0.5},{"s":"Y6","t":5.2,"v":-0.93},{"s":"Y6","t":5.36,"v":-1.3},{"s":"Y6","t":5.48,"v":-1.7},{"s":"Y6","t":5.64,"v":-2.0},{"s":"Y6","t":5.83,"v":-2.8},{"s":"Y6","t":5.9,"v":-4.0},{"s":"Y6","t":6.06,"v":-3.9},{"s":"Y6","t":6.25,"v":-5.8},{"s":"Y6","t":6.42,"v":-6.8},{"s":"Y6","t":6.5,"v":-7.6},{"s":"Y6","t":6.6,"v":-7.1},{"s":"Y6","t":6.72,"v":-7.0},{"s":"Y6","t":6.8,"v":-8.4},{"s":"Y6","t":7.0,"v":-8.4},{"s":"Y6","t":7.24,"v":-10.0},{"s":"Y6","t":7.4,"v":-10.6},{"s":"Y6","t":7.47,"v":-11.4},{"s":"Y6","t":7.55,"v":-11.3},{"s":"Y6","t":7.7,"v":-12.7},{"s":"Y6","t":7.78,"v":-12.8},{"s":"Y6","t":7.9,"v":-14.05},{"s":"Y6","t":7.99,"v":-13.8},{"s":"Y6","t":8.14,"v":-13.0},{"s":"Y6","t":8.23,"v":-13.8},{"s":"Y6","t":8.34,"v":-14.3},{"s":"Y6","t":8.42,"v":-15.0},{"s":"Y6","t":8.49,"v":-14.7},{"s":"Y6","t":8.58,"v":-15.3},{"s":"Y6","t":8.7,"v":-15.3},{"s":"Y6","t":8.84,"v":-15.8},{"s":"Y6","t":8.93,"v":-15.8},{"s":"Y6","t":9.05,"v":-16.4},{"s":"Y6","t":9.12,"v":-16.1},{"s":"Y6","t":9.24,"v":-16.5},{"s":"Y6","t":9.36,"v":-16.1},{"s":"Y6","t":9.47,"v":-15.7},{"s":"Y6","t":9.6,"v":-16.5},{"s":"Y6","t":9.7,"v":-16.1},{"s":"Y6","t":9.83,"v":-16.2},{"s":"Y6","t":9.99,"v":-16.4},{"s":"Y6","t":10.13,"v":-16.8},{"s":"Y6","t":10.22,"v":-16.2},{"s":"Y6","t":10.37,"v":-16.6},{"s":"Y6","t":10.53,"v":-16.6},{"s":"Y6","t":10.65,"v":-16.7},{"s":"Y6","t":10.77,"v":-16.9},{"s":"Y6","t":10.84,"v":-17.1},{"s":"Y6","t":11.0,"v":-16.6},{"s":"Y6","t":11.12,"v":-16.5},{"s":"Y6","t":11.24,"v":-16.3},{"s":"Y6","t":11.4,"v":-16.8},{"s":"Y6","t":11.47,"v":-16.5},{"s":"Y6","t":11.54,"v":-16.7},{"s":"Y6","t":11.7,"v":-17.1},{"s":"Y6","t":11.87,"v":-16.6},{"s":"Y6","t":12.01,"v":-17.1},{"s":"Y6","t":12.18,"v":-16.9},{"s":"Y6","t":12.25,"v":-17.0},{"s":"Y6","t":12.41,"v":-16.5},{"s":"Y6","t":12.53,"v":-15.6},{"s":"Y6","t":12.72,"v":-16.5},{"s":"Y6","t":12.88,"v":-17.6},{"s":"Y6","t":13.05,"v":-17.4},{"s":"Y6","t":13.12,"v":-16.2},{"s":"Y6","t":13.28,"v":-14.3},{"s":"Y6","t":13.42,"v":-13.5},{"s":"Y6","t":13.59,"v":-12.7},{"s":"Y6","t":13.66,"v":-12.5},{"s":"Y6","t":13.78,"v":-12.8},{"s":"Y6","t":13.94,"v":-13.7},{"s":"Y6","t":14.06,"v":-13.2},{"s":"Y6","t":14.2,"v":-13.3},{"s":"Y6","t":14.29,"v":-11.4},{"s":"Y6","t":14.45,"v":-12.2},{"s":"Y6","t":14.55,"v":-9.96},{"s":"Y6","t":14.65,"v":-12.5},{"s":"Y6","t":14.76,"v":-11.8},{"s":"Y6","t":14.93,"v":-12.7},{"s":"Y6","t":15.16,"v":-14.6},{"s":"Y6","t":15.3,"v":-13.3},{"s":"Y6","t":15.4,"v":-15.0},{"s":"Y6","t":15.47,"v":-13.8},{"s":"Y6","t":15.58,"v":-15.0},{"s":"Y6","t":15.7,"v":-15.6},{"s":"Y6","t":15.78,"v":-16.2},{"s":"Y6","t":15.87,"v":-14.7},{"s":"Y6","t":15.98,"v":-14.4},{"s":"Y6","t":16.13,"v":-13.5},{"s":"Y6","t":16.22,"v":-13.8},{"s":"Y6","t":16.29,"v":-11.1},{"s":"Y6","t":16.41,"v":-12.5},{"s":"Y6","t":16.48,"v":-13.3},{"s":"Y6","t":16.57,"v":-11.6},{"s":"Y6","t":16.71,"v":-10.9},{"s":"Y6","t":16.83,"v":-11.8},{"s":"Y6","t":16.95,"v":-11.6},{"s":"Y6","t":17.04,"v":-10.9},{"s":"Y6","t":17.18,"v":-11.6},{"s":"Y6","t":17.35,"v":-11.2},{"s":"Y6","t":17.5,"v":-10.9},{"s":"Y6","t":17.58,"v":-10.3},{"s":"Y6","t":17.7,"v":-8.9},{"s":"Y6","t":17.94,"v":-8.0},{"s":"Y6","t":18.17,"v":-7.1},{"s":"Y6","t":18.33,"v":-6.2},{"s":"Y6","t":18.48,"v":-5.3},{"s":"Y6","t":18.6,"v":-3.9},{"s":"Y6","t":18.76,"v":-3.6},{"s":"Y6","t":18.88,"v":-1.7},{"s":"Y6","t":18.96,"v":-1.8},{"s":"Y6","t":19.04,"v":-3.1},{"s":"Y6","t":19.16,"v":-1.8},{"s":"Y6","t":19.28,"v":-0.04},{"s":"Y6","t":19.39,"v":0.84},{"s":"Y6","t":19.46,"v":2.0},{"s":"Y6","t":19.54,"v":0.84},{"s":"Y6","t":19.65,"v":1.6},{"s":"Y6","t":19.77,"v":2.5},{"s":"Y6","t":19.86,"v":2.7},{"s":"Y6","t":19.93,"v":3.8},{"s":"Y6","t":20.05,"v":4.2},{"s":"Y6","t":20.12,"v":3.5},{"s":"Y6","t":20.29,"v":4.1},{"s":"Y6","t":20.4,"v":3.2},{"s":"Y6","t":20.47,"v":3.8},{"s":"Y6","t":20.64,"v":2.6},{"s":"Y6","t":20.76,"v":3.3},{"s":"Y6","t":20.87,"v":4.2},{"s":"Y6","t":20.99,"v":3.0},{"s":"Y6","t":21.06,"v":3.26},{"s":"Y6","t":21.14,"v":3.9},{"s":"Y6","t":21.27,"v":3.0},{"s":"Y6","t":21.42,"v":3.4},{"s":"Y6","t":21.52,"v":3.0},{"s":"Y6","t":21.63,"v":3.5},{"s":"Y6","t":21.7,"v":4.36},{"s":"Y6","t":21.77,"v":4.2},{"s":"Y6","t":21.89,"v":4.7},
{"s":"Y8","t":-1.97,"v":2.7},{"s":"Y8","t":-1.8,"v":2.8},{"s":"Y8","t":-1.73,"v":2.5},{"s":"Y8","t":-1.62,"v":2.8},{"s":"Y8","t":-1.53,"v":2.47},{"s":"Y8","t":-1.4,"v":3.2},{"s":"Y8","t":-1.34,"v":2.95},{"s":"Y8","t":-1.22,"v":3.5},{"s":"Y8","t":-1.1,"v":3.3},{"s":"Y8","t":-0.99,"v":3.5},{"s":"Y8","t":-0.87,"v":3.1},{"s":"Y8","t":-0.75,"v":2.9},{"s":"Y8","t":-0.64,"v":3.1},{"s":"Y8","t":-0.52,"v":3.6},{"s":"Y8","t":-0.44,"v":4.05},{"s":"Y8","t":-0.33,"v":2.8},{"s":"Y8","t":-0.21,"v":3.5},{"s":"Y8","t":-0.09,"v":2.5},{"s":"Y8","t":0.02,"v":3.2},{"s":"Y8","t":0.14,"v":2.95},{"s":"Y8","t":0.23,"v":2.6},{"s":"Y8","t":0.3,"v":2.16},{"s":"Y8","t":0.42,"v":2.5},{"s":"Y8","t":0.54,"v":2.7},{"s":"Y8","t":0.66,"v":3.5},{"s":"Y8","t":0.82,"v":2.8},{"s":"Y8","t":0.94,"v":3.1},{"s":"Y8","t":1.06,"v":2.6},{"s":"Y8","t":1.13,"v":3.4},{"s":"Y8","t":1.29,"v":2.8},{"s":"Y8","t":1.43,"v":3.2},{"s":"Y8","t":1.64,"v":1.94},{"s":"Y8","t":1.76,"v":2.6},{"s":"Y8","t":1.9,"v":3.0},{"s":"Y8","t":2.07,"v":1.94},{"s":"Y8","t":2.19,"v":1.4},{"s":"Y8","t":2.3,"v":1.6},{"s":"Y8","t":2.47,"v":3.0},{"s":"Y8","t":2.61,"v":2.25},{"s":"Y8","t":2.73,"v":1.5},{"s":"Y8","t":2.85,"v":2.6},{"s":"Y8","t":3.0,"v":2.5},{"s":"Y8","t":3.13,"v":1.94},{"s":"Y8","t":3.24,"v":2.7},{"s":"Y8","t":3.31,"v":2.4},{"s":"Y8","t":3.48,"v":2.16},{"s":"Y8","t":3.6,"v":2.3},{"s":"Y8","t":3.7,"v":2.0},{"s":"Y8","t":3.88,"v":0.7},{"s":"Y8","t":3.95,"v":1.85},{"s":"Y8","t":4.11,"v":1.6},{"s":"Y8","t":4.25,"v":1.3},{"s":"Y8","t":4.42,"v":1.0},{"s":"Y8","t":4.58,"v":0.5},{"s":"Y8","t":4.72,"v":0.1},{"s":"Y8","t":4.89,"v":-0.35},{"s":"Y8","t":5.05,"v":-0.9},{"s":"Y8","t":5.2,"v":-1.4},{"s":"Y8","t":5.36,"v":-1.5},{"s":"Y8","t":5.48,"v":-1.7},{"s":"Y8","t":5.6,"v":-2.25},{"s":"Y8","t":5.76,"v":-2.55},{"s":"Y8","t":5.87,"v":-3.0},{"s":"Y8","t":6.02,"v":-4.1},{"s":"Y8","t":6.23,"v":-4.9},{"s":"Y8","t":6.3,"v":-5.2},{"s":"Y8","t":6.46,"v":-6.2},{"s":"Y8","t":6.58,"v":-7.1},{"s":"Y8","t":6.65,"v":-8.5},{"s":"Y8","t":6.82,"v":-8.0},{"s":"Y8","t":6.96,"v":-8.1},{"s":"Y8","t":7.08,"v":-6.9},{"s":"Y8","t":7.24,"v":-7.2},{"s":"Y8","t":7.4,"v":-8.0},{"s":"Y8","t":7.55,"v":-8.0},{"s":"Y8","t":7.66,"v":-8.9},{"s":"Y8","t":7.78,"v":-10.0},{"s":"Y8","t":7.87,"v":-10.5},{"s":"Y8","t":7.92,"v":-10.1},{"s":"Y8","t":7.99,"v":-11.4},{"s":"Y8","t":8.14,"v":-10.9},{"s":"Y8","t":8.3,"v":-10.5},{"s":"Y8","t":8.42,"v":-11.2},{"s":"Y8","t":8.58,"v":-10.8},{"s":"Y8","t":8.65,"v":-11.6},{"s":"Y8","t":8.82,"v":-12.0},{"s":"Y8","t":8.96,"v":-13.6},{"s":"Y8","t":9.05,"v":-13.0},{"s":"Y8","t":9.12,"v":-13.0},{"s":"Y8","t":9.28,"v":-14.4},{"s":"Y8","t":9.4,"v":-14.4},{"s":"Y8","t":9.52,"v":-15.0},{"s":"Y8","t":9.6,"v":-16.6},{"s":"Y8","t":9.75,"v":-17.0},{"s":"Y8","t":9.9,"v":-16.8},{"s":"Y8","t":10.06,"v":-17.1},{"s":"Y8","t":10.22,"v":-17.5},{"s":"Y8","t":10.3,"v":-17.2},{"s":"Y8","t":10.41,"v":-17.5},{"s":"Y8","t":10.53,"v":-17.4},{"s":"Y8","t":10.69,"v":-17.8},{"s":"Y8","t":10.84,"v":-17.5},{"s":"Y8","t":11.0,"v":-17.4},{"s":"Y8","t":11.12,"v":-17.3},{"s":"Y8","t":11.24,"v":-17.6},{"s":"Y8","t":11.4,"v":-17.2},{"s":"Y8","t":11.47,"v":-17.9},{"s":"Y8","t":11.64,"v":-17.6},{"s":"Y8","t":11.78,"v":-17.8},{"s":"Y8","t":11.94,"v":-17.4},{"s":"Y8","t":12.1,"v":-17.5},{"s":"Y8","t":12.25,"v":-17.5},{"s":"Y8","t":12.41,"v":-17.4},{"s":"Y8","t":12.58,"v":-17.8},{"s":"Y8","t":12.72,"v":-17.4},{"s":"Y8","t":12.88,"v":-17.5},{"s":"Y8","t":13.05,"v":-17.4},{"s":"Y8","t":13.2,"v":-17.3},{"s":"Y8","t":13.42,"v":-17.3},{"s":"Y8","t":13.66,"v":-17.3},{"s":"Y8","t":13.82,"v":-17.8},{"s":"Y8","t":13.99,"v":-17.2},{"s":"Y8","t":14.13,"v":-17.8},{"s":"Y8","t":14.29,"v":-16.9},{"s":"Y8","t":14.53,"v":-17.4},{"s":"Y8","t":14.69,"v":-17.8},{"s":"Y8","t":14.83,"v":-17.4},{"s":"Y8","t":15.0,"v":-17.4},{"s":"Y8","t":15.16,"v":-17.3},{"s":"Y8","t":15.3,"v":-17.2},{"s":"Y8","t":15.47,"v":-17.4},{"s":"Y8","t":15.63,"v":-17.0},{"s":"Y8","t":15.78,"v":-17.1},{"s":"Y8","t":15.94,"v":-16.9},{"s":"Y8","t":16.06,"v":-17.1},{"s":"Y8","t":16.17,"v":-16.1},{"s":"Y8","t":16.29,"v":-15.6},{"s":"Y8","t":16.41,"v":-14.9},{"s":"Y8","t":16.57,"v":-14.0},{"s":"Y8","t":16.7,"v":-14.2},{"s":"Y8","t":16.8,"v":-14.0},{"s":"Y8","t":16.9,"v":-14.4},{"s":"Y8","t":16.95,"v":-13.1},{"s":"Y8","t":17.11,"v":-12.1},{"s":"Y8","t":17.28,"v":-11.5},{"s":"Y8","t":17.35,"v":-10.9},{"s":"Y8","t":17.58,"v":-10.5},{"s":"Y8","t":17.8,"v":-9.6},{"s":"Y8","t":18.0,"v":-8.7},{"s":"Y8","t":18.2,"v":-8.0},{"s":"Y8","t":18.4,"v":-7.0},{"s":"Y8","t":18.6,"v":-6.3},{"s":"Y8","t":18.8,"v":-5.8},{"s":"Y8","t":18.92,"v":-5.3},{"s":"Y8","t":19.07,"v":-4.45},{"s":"Y8","t":19.28,"v":-3.65},{"s":"Y8","t":19.39,"v":-3.9},{"s":"Y8","t":19.54,"v":-2.55},{"s":"Y8","t":19.7,"v":-2.47},{"s":"Y8","t":19.82,"v":-1.7},{"s":"Y8","t":19.93,"v":-2.0},{"s":"Y8","t":19.98,"v":-0.6},{"s":"Y8","t":20.12,"v":-0.18},{"s":"Y8","t":20.24,"v":0.04},{"s":"Y8","t":20.4,"v":0.5},{"s":"Y8","t":20.57,"v":0.9},{"s":"Y8","t":20.64,"v":1.6},{"s":"Y8","t":20.8,"v":1.4},{"s":"Y8","t":21.04,"v":2.16},{"s":"Y8","t":21.23,"v":1.8},{"s":"Y8","t":21.39,"v":2.4},{"s":"Y8","t":21.5,"v":2.1},{"s":"Y8","t":21.58,"v":2.9},{"s":"Y8","t":21.65,"v":2.25},{"s":"Y8","t":21.81,"v":3.3}
],
"itu":[{"t":0,"v":5},{"t":3.95,"v":5},{"t":4.05,"v":-8},{"t":7.95,"v":-8},{"t":8.05,"v":-30},{"t":11.97,"v":-30},{"t":12.06,"v":-24},{"t":15.95,"v":-24},{"t":16.05,"v":-4},{"t":19.95,"v":-4},{"t":20.05,"v":6},{"t":24,"v":6}],
"refs":[{"name":"business","kind":"manmade","v":11.28,"t0":-0.75,"t1":23.53},{"name":"residential","kind":"manmade","v":7.0,"t0":-0.75,"t1":23.53},{"name":"rural","kind":"manmade","v":1.72,"t0":-0.75,"t1":23.53},{"name":"quiet_rural","kind":"manmade","v":-12.38,"t0":-0.75,"t1":23.53},{"name":"system","kind":"floor","v":-24.71,"t0":-0.75,"t1":23.53}],
"boxes":[{"t0":-1.857,"t1":5.36,"v0":16.39,"v1":19.47},{"t0":8.39,"t1":16.27,"v0":11.72,"v1":19.65},{"t0":4.37,"t1":7.64,"v0":12.95,"v1":14.41},{"t0":17.11,"t1":20.92,"v0":12.86,"v1":14.23},{"t0":19.04,"t1":23.51,"v0":9.74,"v1":10.97},{"t0":18.52,"t1":23.53,"v0":7.31,"v1":8.55},{"t0":13.49,"t1":17.07,"v0":2.03,"v1":3.22},{"t0":18.43,"t1":23.48,"v0":-11.85,"v1":-10.62},{"t0":18.38,"t1":23.46,"v0":-24.27,"v1":-22.86},{"t0":12.22,"t1":17.84,"v0":-29.43,"v1":-27.27}],
"notes":[{"group":"location","label":"Measurement location:","t":-1.6,"v":18.72},{"group":"location","label":"PA0KDF, Rietmolen, NL","t":-1.6,"v":17.22},{"group":"itu","label":"atmospheric noise level","t":12.41,"v":-27.62},{"group":"itu","label":"according ITU","t":12.41,"v":-28.77},{"group":"sun","label":"Sunrise","t":6.02,"v":13.66},{"group":"sun","label":"Sunset","t":18.88,"v":13.52},{"group":"manmade","label":"Manmade business","t":21.27,"v":10.35},{"group":"manmade","label":"Manmade residential","t":21.02,"v":7.93},{"group":"manmade","label":"Manmade rural","t":15.28,"v":2.6},{"group":"manmade","label":"Manmade quiet_rural","t":20.94,"v":-11.23},{"group":"floor","label":"System Noise Floor","t":20.92,"v":-23.52}],
"legend":[{"s":"M6","label":"March 6 2015 3.560 MHz R=23","t":8.67,"v":18.81},{"s":"M20","label":"March 20 2015 3.56 M Hz R=14","t":8.67,"v":17.53},{"s":"A14","label":"April 14 2015 3.560 MHz R=75","t":8.67,"v":16.26},{"s":"A15","label":"April 15 2015 3.560 MHz R=70","t":8.67,"v":15.02},{"s":"Y6","label":"May 6 2015 3.560 MHz R=82","t":8.67,"v":13.74},{"s":"Y8","label":"May 8 2015 3.560 MHz R=101","t":8.67,"v":12.51}],
"markers":[{"kind":"rise","s":"Y8","t":4.84,"v":12.16},{"kind":"rise","s":"Y6","t":4.93,"v":12.16},{"kind":"rise","s":"A15","t":5.57,"v":12.16},{"kind":"rise","s":"A14","t":5.66,"v":12.16},{"kind":"rise","s":"M20","t":6.61,"v":12.16},{"kind":"rise","s":"M6","t":7.17,"v":12.16},{"kind":"set","s":"M6","t":18.33,"v":12.2},{"kind":"set","s":"M20","t":18.76,"v":12.2},{"kind":"set","s":"A15","t":19.46,"v":12.2},{"kind":"set","s":"A14","t":19.5,"v":12.2},{"kind":"set","s":"Y8","t":20.17,"v":12.2},{"kind":"set","s":"Y6","t":20.1,"v":12.2}]
},
"layer":[
{"data":{"name":"series"},"mark":{"type":"line","strokeWidth":2,"strokeJoin":"round"},
 "encoding":{
  "x":{"field":"t","type":"quantitative","scale":{"domain":[-2,24],"nice":false,"zero":false},
   "axis":{"values":[-2,-1,0,1,2,3,4,5,6,7,8,9,10,11,12,13,14,15,16,17,18,19,20,21,22,23,24],"grid":true,"gridColor":"#111111","gridWidth":1.5,"ticks":false,"domain":false,"labelExpr":"'' + datum.value","labelFontSize":23,"labelPadding":11,"labelFlush":false,"labelOverlap":false,
    "title":"Local time [h]","titleFontSize":24,"titleAlign":"right","titleAnchor":"end","titleX":1105,"titleY":59,"titleBaseline":"alphabetic"}},
  "y":{"field":"v","type":"quantitative","scale":{"domain":[-30,20],"nice":false,"zero":false},
   "axis":{"values":[-30,-29,-28,-27,-26,-25,-24,-23,-22,-21,-20,-19,-18,-17,-16,-15,-14,-13,-12,-11,-10,-9,-8,-7,-6,-5,-4,-3,-2,-1,0,1,2,3,4,5,6,7,8,9,10,11,12,13,14,15,16,17,18,19,20],
    "grid":true,"gridColor":"#111111","gridWidth":1.5,"gridOpacity":{"condition":{"test":"datum.value % 10 === 0","value":1},"value":0},
    "ticks":true,"tickSize":7,"tickColor":"black","tickWidth":1,"domain":false,
    "labelExpr":"datum.value % 10 === 0 ? '' + datum.value : ''","labelFontSize":24,"labelPadding":3,"labelOverlap":false,"labelBound":false,"labelFlush":false,
    "title":["Noise field strength"," [dBµV/m]"],"titleFontSize":23,"titleAngle":0,"titleAlign":"left","titleBaseline":"top","titleX":-27,"titleY":-74,"titleLineHeight":23}},
  "color":{"field":"s","type":"nominal","legend":null,"scale":{"domain":["M6","M20","A14","A15","Y6","Y8"],"range":["#0B4A9E","#E0000F","#FFB000","#EEEE00","#11BB11","#1AB4F0"]}},
  "order":{"field":"t","type":"quantitative"}}},
{"data":{"name":"refs"},"transform":[{"filter":"datum.kind === 'manmade'"}],"mark":{"type":"rule","color":"#22CC22","strokeWidth":1.5},
 "encoding":{"x":{"field":"t0","type":"quantitative"},"x2":{"field":"t1"},"y":{"field":"v","type":"quantitative"}}},
{"data":{"name":"refs"},"transform":[{"filter":"datum.kind === 'floor'"}],"mark":{"type":"rule","color":"#6A9A22","strokeWidth":1.5},
 "encoding":{"x":{"field":"t0","type":"quantitative"},"x2":{"field":"t1"},"y":{"field":"v","type":"quantitative"}}},
{"data":{"name":"itu"},"mark":{"type":"line","color":"black","strokeWidth":3.5,"strokeJoin":"miter"},
 "encoding":{"x":{"field":"t","type":"quantitative"},"y":{"field":"v","type":"quantitative"},"order":{"field":"t","type":"quantitative"}}},
{"data":{"name":"boxes"},"mark":{"type":"rect","fill":"white","stroke":"#333333","strokeWidth":1.2},
 "encoding":{"x":{"field":"t0","type":"quantitative"},"x2":{"field":"t1"},"y":{"field":"v0","type":"quantitative"},"y2":{"field":"v1"}}},
{"data":{"name":"notes"},"transform":[{"filter":"datum.group === 'location'"}],"mark":{"type":"text","align":"left","baseline":"middle","fontSize":29,"font":"Liberation Serif","color":"black"},
 "encoding":{"x":{"field":"t","type":"quantitative"},"y":{"field":"v","type":"quantitative"},"text":{"field":"label"}}},
{"data":{"name":"notes"},"transform":[{"filter":"datum.group === 'itu'"}],"mark":{"type":"text","align":"left","baseline":"middle","fontSize":24,"font":"Liberation Serif","color":"black"},
 "encoding":{"x":{"field":"t","type":"quantitative"},"y":{"field":"v","type":"quantitative"},"text":{"field":"label"}}},
{"data":{"name":"notes"},"transform":[{"filter":"datum.group === 'sun'"}],"mark":{"type":"text","align":"center","baseline":"middle","fontSize":24,"font":"Liberation Serif","color":"black"},
 "encoding":{"x":{"field":"t","type":"quantitative"},"y":{"field":"v","type":"quantitative"},"text":{"field":"label"}}},
{"data":{"name":"notes"},"transform":[{"filter":"datum.group === 'manmade'"}],"mark":{"type":"text","align":"center","baseline":"middle","fontSize":24,"font":"Liberation Serif","color":"#22BB22"},
 "encoding":{"x":{"field":"t","type":"quantitative"},"y":{"field":"v","type":"quantitative"},"text":{"field":"label"}}},
{"data":{"name":"notes"},"transform":[{"filter":"datum.group === 'floor'"}],"mark":{"type":"text","align":"center","baseline":"middle","fontSize":24,"font":"Liberation Serif","color":"#5E9416"},
 "encoding":{"x":{"field":"t","type":"quantitative"},"y":{"field":"v","type":"quantitative"},"text":{"field":"label"}}},
{"data":{"name":"legend"},"mark":{"type":"text","align":"left","baseline":"middle","fontSize":24,"font":"Liberation Serif"},
 "encoding":{"x":{"field":"t","type":"quantitative"},"y":{"field":"v","type":"quantitative"},"text":{"field":"label"},"color":{"field":"s","type":"nominal","legend":null}}},
{"data":{"name":"markers"},"transform":[{"filter":"datum.kind === 'rise'"}],"mark":{"type":"point","shape":"triangle-up","filled":true,"size":170,"opacity":1},
 "encoding":{"x":{"field":"t","type":"quantitative"},"y":{"field":"v","type":"quantitative"},"color":{"field":"s","type":"nominal","legend":null}}},
{"data":{"name":"markers"},"transform":[{"filter":"datum.kind === 'set'"}],"mark":{"type":"point","shape":"M-1,-1L1,-1L-1,1L1,1Z","filled":true,"size":160,"opacity":1},
 "encoding":{"x":{"field":"t","type":"quantitative"},"y":{"field":"v","type":"quantitative"},"color":{"field":"s","type":"nominal","legend":null}}}
]
}
